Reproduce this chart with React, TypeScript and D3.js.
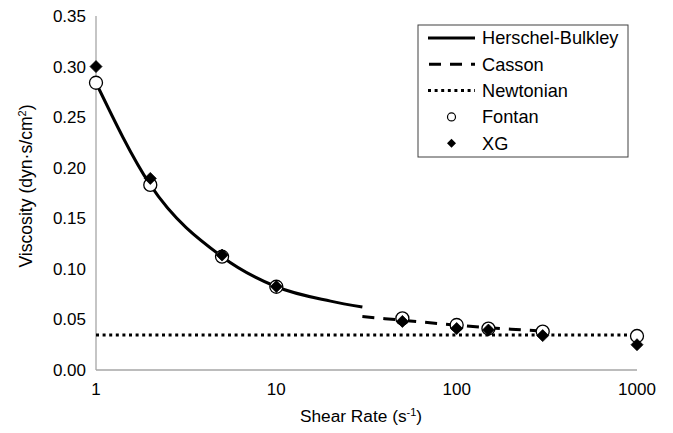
import React from "react";
import * as d3 from "d3";

const shearRates = [1, 2, 5, 10, 50, 100, 150, 300, 1000];
const fontan = [0.284, 0.183, 0.112, 0.0823, 0.051, 0.0445, 0.041, 0.038, 0.0336];
const xg = [0.3, 0.1894, 0.1136, 0.0825, 0.048, 0.041, 0.0395, 0.034, 0.025];

const hbRates = [1, 2, 5, 10, 20, 30];
const hbValues = [0.284, 0.183, 0.112, 0.0823, 0.0681, 0.0622];
const cassonRates = [30, 50, 100, 150, 200, 300];
const cassonValues = [0.0528, 0.0492, 0.0443, 0.0418, 0.0403, 0.0385];
const newtonianRates = [1, 1000];
const newtonianValues = [0.0346, 0.0346];

const xTicks = [1, 10, 100, 1000];
const yTicks = [0, 0.05, 0.1, 0.15, 0.2, 0.25, 0.3, 0.35];

const legendItems = ["Herschel-Bulkley", "Casson", "Newtonian", "Fontan", "XG"];

const FONT = "'Liberation Sans', Arial, sans-serif";

export default function App() {
  const W = 673, H = 433;
  const left = 96, right = 637, top = 16, bottom = 370;
  const x = d3.scaleLog().domain([1, 1000]).range([left, right]);
  const y = d3.scaleLinear().domain([0, 0.35]).range([bottom, top]);

  const line = d3
    .line<[number, number]>()
    .x((d) => x(d[0]))
    .y((d) => y(d[1]));
  const smooth = d3
    .line<[number, number]>()
    .x((d) => x(d[0]))
    .y((d) => y(d[1]))
    .curve(d3.curveMonotoneX);

  const hb = hbRates.map((r, i) => [r, hbValues[i]] as [number, number]);
  const cas = cassonRates.map((r, i) => [r, cassonValues[i]] as [number, number]);
  const newt = newtonianRates.map((r, i) => [r, newtonianValues[i]] as [number, number]);

  const diamond = (cx: number, cy: number, s: number) =>
    `M${cx},${cy - s}L${cx + s},${cy}L${cx},${cy + s}L${cx - s},${cy}Z`;

  const lgX = 418, lgY = 25, lgW = 210, lgH = 132;
  const rowY = (i: number) => 38 + i * 26.3;
  const sx1 = 428, sx2 = 475, scx = 451.5, tx = 482;

  return (
    <svg
      width={W}
      height={H}
      style={{ position: "absolute", left: 0, top: 0, background: "#fff" }}
      fontFamily={FONT}
    >
      <rect x={0} y={0} width={W} height={H} fill="#fff" />
      {/* axes */}
      <line x1={left} y1={top} x2={left} y2={bottom} stroke="#a6a6a6" strokeWidth={1.3} />
      <line x1={left} y1={bottom} x2={right} y2={bottom} stroke="#a6a6a6" strokeWidth={1.3} />
      {yTicks.map((t) => (
        <text key={t} x={86} y={y(t)} dy="0.35em" textAnchor="end" fontSize={17} fill="#000">
          {t.toFixed(2)}
        </text>
      ))}
      {xTicks.map((t) => (
        <text key={t} x={x(t)} y={389} dy="0.35em" textAnchor="middle" fontSize={17} fill="#000">
          {t}
        </text>
      ))}
      <text x={361} y={416} dy="0.35em" textAnchor="middle" fontSize={17.3}>
        Shear Rate (s
        <tspan baselineShift="super" fontSize={11}>-1</tspan>)
      </text>
      <text
        transform={`translate(26,186) rotate(-90)`}
        textAnchor="middle"
        dy="0.35em"
        fontSize={17.6}
      >
        Viscosity (dyn·s/cm<tspan baselineShift="super" fontSize={11}>2</tspan>)
      </text>

      {/* lines */}
      <path d={line(newt) ?? ""} fill="none" stroke="#000" strokeWidth={3} strokeDasharray="3,3.6" />
      <path d={smooth(hb) ?? ""} fill="none" stroke="#000" strokeWidth={3} />
      <path d={smooth(cas) ?? ""} fill="none" stroke="#000" strokeWidth={3} strokeDasharray="12,9" />

      {/* points */}
      {shearRates.map((r, i) => (
        <circle key={"f" + r} cx={x(r)} cy={y(fontan[i])} r={6.5} fill="#fff" stroke="#000" strokeWidth={1.3} />
      ))}
      {shearRates.map((r, i) => (
        <path key={"x" + r} d={diamond(x(r), y(xg[i]), 6)} fill="#000" stroke="#000" strokeWidth={0.8} />
      ))}

      {/* legend */}
      <rect x={lgX} y={lgY} width={lgW} height={lgH} fill="#fff" stroke="#404040" strokeWidth={1} />
      <line x1={sx1} x2={sx2} y1={rowY(0)} y2={rowY(0)} stroke="#000" strokeWidth={3} />
      <line x1={sx1} x2={sx2} y1={rowY(1)} y2={rowY(1)} stroke="#000" strokeWidth={3} strokeDasharray="12,9" strokeDashoffset={-1} />
      <line x1={sx1} x2={sx2} y1={rowY(2)} y2={rowY(2)} stroke="#000" strokeWidth={3} strokeDasharray="3,3.6" />
      <circle cx={scx} cy={rowY(3)} r={4} fill="#fff" stroke="#000" strokeWidth={1.2} />
      <path d={diamond(scx, rowY(4), 4.5)} fill="#000" />
      {legendItems.map((t, i) => (
        <text key={t} x={tx} y={rowY(i)} dy="0.35em" fontSize={18.2}>
          {t}
        </text>
      ))}
    </svg>
  );
}
